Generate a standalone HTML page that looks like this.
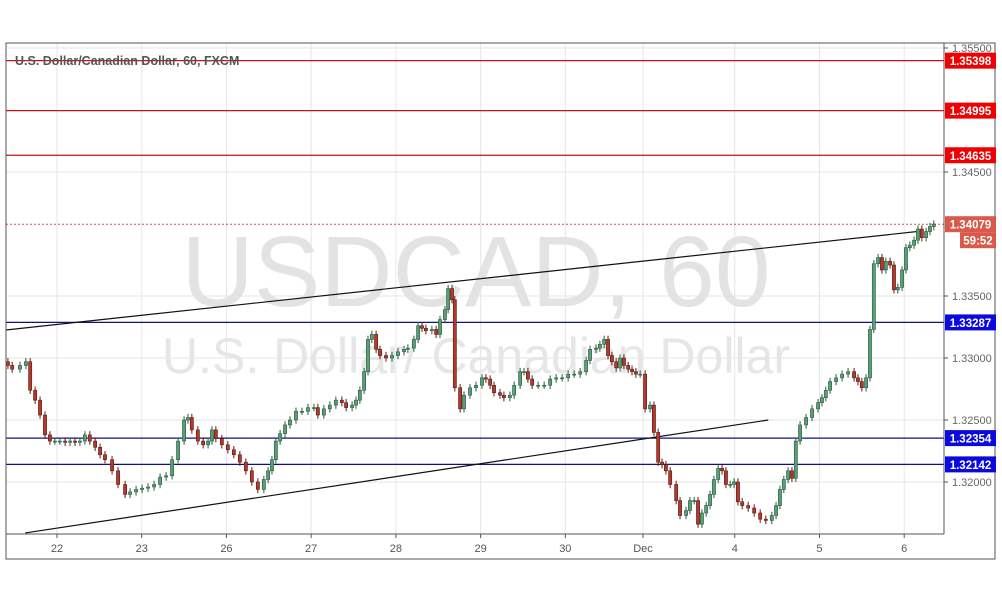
<!DOCTYPE html>
<html><head><meta charset="utf-8"><style>
html,body{margin:0;padding:0;background:#fff;}
svg{display:block;font-family:"Liberation Sans",sans-serif;}
</style></head><body>
<svg id="chart" width="1002" height="596" viewBox="0 0 1002 596" xmlns="http://www.w3.org/2000/svg">
<rect x="0" y="0" width="1002" height="596" fill="#fff"/>
<g id="grid"></g>
<g>
<text x="476" y="306" font-size="100" fill="#e3e3e3" text-anchor="middle">USDCAD, 60</text>
<text x="476" y="373" font-size="50" fill="#e6e6e6" text-anchor="middle">U.S. Dollar/ Canadian Dollar</text>
</g>
<g id="levels"></g>
<g id="trend"></g>
<g id="candles"></g>
<g id="axes"></g>
<text x="15" y="65" font-size="12.5" font-weight="bold" fill="#555">U.S. Dollar/Canadian Dollar, 60, FXCM</text>
</svg>
<script>
const hours=[-13.9,-12.7,-10.5,-8.8,-7.6,-6.2,-4.8,-3.4,-2,-0.6,0.8,2.3,3.7,5.1,6.5,7.9,9.3,10.8,12.2,13.6,
15.6,17.3,19.3,20.7,22.4,24.1,25.8,27.5,29.2,30.9,32.6,34.3,36,37.1,38.2,39.9,41.4,42.8,43.9,45,
46.7,48.4,50.1,51.8,53.5,55.2,56.9,58.6,59.8,60.9,62,63.2,64.6,66,67.7,69.4,71.1,72.8,73.9,75.6,
77.3,79,80.7,81.9,83.6,84.7,85.8,87,88.1,89.2,90.4,91.5,93.2,94.9,96.6,98.3,99.4,101.1,102.3,103.4,
104.5,106.2,107.4,108.5,109.9,110.8,111.9,112.7,114.2,115.3,117,118.7,120.4,121.5,122.7,123.8,125.5,126.6,128.3,129.5,
131.2,132.3,133.4,134.6,136.3,138,139.7,141.4,143.1,144.8,146.5,148.2,149.9,151,152.7,153.8,155,156.1,157.2,158.4,
159.5,160.6,161.8,162.9,164,165.2,166.6,168,169.1,170.3,171.4,172.5,173.7,175.4,176.5,178.2,179.3,180.5,181.6,182.7,
183.9,185,186.1,187.3,188.4,189.5,190.7,191.8,192.9,194.1,195.8,197.5,199.2,200.8,202.5,203.7,204.8,205.9,207.1,208.2,
209.3,210.5,212.2,213.9,215.6,216.7,217.8,219,220.7,222.4,224.1,225.8,226.9,228,229.2,230.3,231.4,232.6,233.7,234.8,
236,237.1,238.2,239.4,240.5,241.6,242.8,243.9,245,246.2,247.3,248.4];
const closes=[1.3294,1.3291,1.3294,1.3297,1.3274,1.3266,1.3254,1.3238,1.3233,1.3233,1.3233,1.3232,1.3233,1.3232,1.3233,1.3238,1.3233,1.3228,1.3222,1.3218,
1.3209,1.3198,1.3190,1.3192,1.3194,1.3195,1.3196,1.3198,1.3204,1.3205,1.3218,1.3233,1.3250,1.3252,1.3242,1.3233,1.3230,1.3233,1.3242,1.3235,
1.3230,1.3226,1.3222,1.3216,1.3209,1.3200,1.3194,1.3202,1.3209,1.3218,1.3233,1.3239,1.3246,1.3250,1.3257,1.3257,1.3260,1.3260,1.3254,1.3259,
1.3262,1.3266,1.3264,1.3260,1.3262,1.3266,1.3274,1.3289,1.3315,1.3319,1.3307,1.3302,1.3300,1.3302,1.3305,1.3307,1.3308,1.3315,1.3326,1.3324,
1.3322,1.3323,1.3319,1.3331,1.3339,1.3356,1.3347,1.3276,1.3259,1.3270,1.3276,1.3278,1.3284,1.3283,1.3278,1.3272,1.3270,1.3268,1.3270,1.3278,
1.3289,1.3289,1.3283,1.3278,1.3278,1.3278,1.3283,1.3284,1.3284,1.3287,1.3287,1.3289,1.3298,1.3307,1.3308,1.3311,1.3315,1.3302,1.3297,1.3292,
1.3300,1.3294,1.3291,1.3289,1.3287,1.3287,1.3259,1.3262,1.3240,1.3216,1.3214,1.3209,1.3198,1.3185,1.3173,1.3177,1.3185,1.3185,1.3166,1.3175,
1.3181,1.3190,1.3202,1.3211,1.3209,1.3198,1.3198,1.3200,1.3184,1.3181,1.3179,1.3175,1.3170,1.3169,1.3173,1.3181,1.3194,1.3202,1.3209,1.3203,
1.3233,1.3246,1.3252,1.3259,1.3264,1.3268,1.3274,1.3281,1.3284,1.3287,1.3289,1.3284,1.3281,1.3276,1.3284,1.3323,1.3376,1.3381,1.3371,1.3378,
1.3375,1.3355,1.3357,1.3371,1.3389,1.3391,1.3395,1.3404,1.3397,1.3402,1.3406,1.3408];
const dayTicks=[0,24,48,72,96,120,144,166,192,216,240];
const dayLabels=["22","23","26","27","28","29","30","Dec","4","5","6"];
const priceTicks=[1.32,1.325,1.33,1.335,1.345,1.355];
const resistance=[1.35398,1.34995,1.34635];
const support=[1.33287,1.32354,1.32142];
const lastPrice=1.34079;
const upperTrend=[[-14.5,1.33226],[245,1.34024]];
const lowerTrend=[[-9,1.31589],[201.5,1.32500]];

const NS="http://www.w3.org/2000/svg";
const L=6,T=43,R=944,B=534;
const xs=h=>57+h*3.53;
const ys=p=>358-(p-1.33)*12400;
function mk(parent,tag,attrs){const e=document.createElementNS(NS,tag);for(const k in attrs)e.setAttribute(k,attrs[k]);document.getElementById(parent).appendChild(e);return e;}

dayTicks.forEach(h=>{const e=mk('grid','line',{x1:xs(h),x2:xs(h),y1:T,y2:B,stroke:'#e6e6e6'});

});
priceTicks.forEach(p=>{const e=mk('grid','line',{x1:L,x2:R,y1:ys(p),y2:ys(p),stroke:'#e6e6e6'});

});

resistance.forEach(p=>{const e=mk('levels','line',{x1:L,x2:R,y1:ys(p),y2:ys(p),stroke:'#c8101a','stroke-width':1.2});

});
support.forEach(p=>{const e=mk('levels','line',{x1:L,x2:R,y1:ys(p),y2:ys(p),stroke:'#101080','stroke-width':1.2});

});
{const e=mk('levels','line',{x1:L,x2:R,y1:ys(lastPrice),y2:ys(lastPrice),stroke:'#c0594a','stroke-dasharray':'2,2'});

}

[upperTrend,lowerTrend].forEach((t,i)=>{const e=mk('trend','line',{x1:xs(t[0][0]),y1:ys(t[0][1]),x2:xs(t[1][0]),y2:ys(t[1][1]),stroke:'#111','stroke-width':1.2});

});

for(let i=0;i<closes.length;i++){
  const c=closes[i],o=i?closes[i-1]:c+0.0003;
  const up=c>=o;const x=xs(hours[i]);
  const hi=Math.max(o,c)+0.0003,lo=Math.min(o,c)-0.0003;
  const w=mk('candles','line',{x1:x,x2:x,y1:ys(hi),y2:ys(lo),stroke:up?'#2b5c3f':'#5a1c14'});
  
  
  const top=ys(Math.max(o,c)),h=Math.max(1,Math.abs(ys(o)-ys(c)));
  const b=mk('candles','rect',{x:x-1.6,y:top,width:3.2,height:h,fill:up?'#5a9e78':'#b23a2c',stroke:up?'#2b5c3f':'#5a1c14','stroke-width':0.6});
  
  
}

{const e=mk('axes','rect',{x:L,y:T,width:995-L,height:559-T,fill:'none',stroke:'#555'});

}
{const e=mk('axes','line',{x1:R,x2:R,y1:T,y2:B,stroke:'#555'});

}
{const e=mk('axes','line',{x1:L,x2:R,y1:B,y2:B,stroke:'#555'});

}
priceTicks.forEach(p=>{
  const t=mk('axes','line',{x1:R,x2:R+4,y1:ys(p),y2:ys(p),stroke:'#555'});
  
  
  const e=mk('axes','text',{x:R+8,y:ys(p)+4,'font-size':11,fill:'#666'});
  e.textContent=p.toFixed(5);
  
  
});
dayTicks.forEach((h,i)=>{
  const t=mk('axes','line',{x1:xs(h),x2:xs(h),y1:B,y2:B+4,stroke:'#555'});
  
  
  const e=mk('axes','text',{x:xs(h),y:552,'font-size':11,fill:'#555','text-anchor':'middle'});
  e.textContent=dayLabels[i];
  
  
});
function badge(p,bg,name,txt){
  const y=ys(p);
  const r=mk('axes','rect',{x:R+1,y:y-8,width:51,height:16,fill:bg});
  
  
  const e=mk('axes','text',{x:R+26.5,y:y+4.5,'font-size':11.5,'font-weight':'bold',fill:'#fff','text-anchor':'middle'});
  e.textContent=txt;
  
  
}
resistance.forEach(p=>badge(p,'#f00000','resistance',p.toFixed(5)));
support.forEach(p=>badge(p,'#0a0ae0','support',p.toFixed(5)));
badge(lastPrice,'#d95a4a','last-price',lastPrice.toFixed(5));
{const r=mk('axes','rect',{x:960,y:ys(lastPrice)+8,width:36,height:16,fill:'#d95a4a'});


const e=mk('axes','text',{x:978,y:ys(lastPrice)+20.5,'font-size':11.5,'font-weight':'bold',fill:'#fff','text-anchor':'middle'});
e.textContent='59:52';

}
</script>
</body></html>
